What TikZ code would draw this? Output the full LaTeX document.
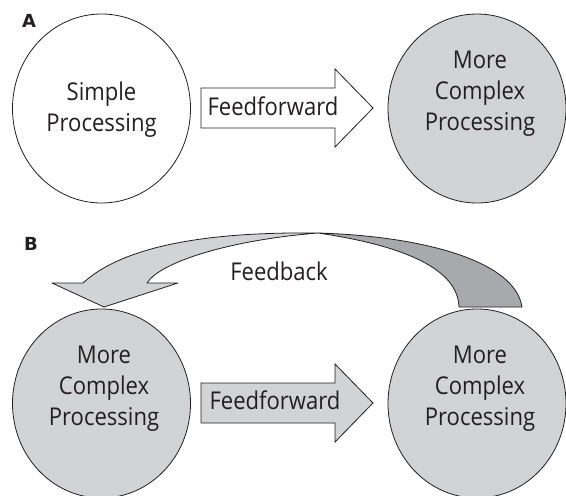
\documentclass[tikz,border=0pt]{standalone}
\usepackage{fontspec}
\setmainfont{Open Sans}[FakeStretch=0.9]
\newfontfamily\panelfont{DejaVu Sans}
\usetikzlibrary{shapes.geometric}
\definecolor{inkc}{HTML}{231F20}
\definecolor{lightg}{HTML}{D1D3D4}
\definecolor{darkg}{HTML}{A7A9AC}
\begin{document}
\begin{tikzpicture}[x=1pt,y=-1pt,
  proc/.style={ellipse, draw=inkc, line width=0.8pt, inner sep=0pt,
    minimum width=178pt, minimum height=189pt},
  txt/.style={align=center, inner sep=0pt, text=inkc,
    font=\fontsize{24.5}{31}\selectfont},
  panel/.style={anchor=base west, inner sep=0pt, text=inkc,
    font=\panelfont\fontsize{18}{18}\selectfont\bfseries},
  blockarrow/.style={draw=inkc, line width=0.8pt, line join=miter},
  band/.style={draw=inkc, line width=0.8pt, line join=round}]
\useasboundingbox (0,0) rectangle (566,496);

% panel A
\node[panel] (labA) at (22,27.5) {A};
\node[proc, fill=white]  (simpleA)  at (101.5,108.5) {};
\node[proc, fill=lightg] (complexA) at (477,108.5) {};
\node[txt] (tSimpleA)  at (101.5,110) {Simple\\Processing};
\node[txt] (tComplexA) at (480,94) {More\\Complex\\Processing};
\draw[blockarrow, fill=white] (201,88) -- (335,88) -- (335,69) -- (373,108)
  -- (335,147) -- (335,128) -- (201,128) -- cycle;
\node[txt, anchor=base] (ffA) at (273,115) {Feedforward};

% panel B
\node[panel] (labB) at (24,250) {B};
\node[proc, fill=lightg] (complexB1) at (101.5,403.5) {};
\node[proc, fill=lightg] (complexB2) at (477,403.5) {};
\node[txt] (tComplexB1) at (104,389) {More\\Complex\\Processing};
\node[txt] (tComplexB2) at (480,389) {More\\Complex\\Processing};
\draw[blockarrow, fill=lightg] (201,383) -- (335,383) -- (335,364) -- (373,403)
  -- (335,442) -- (335,423) -- (201,423) -- cycle;
\node[txt, anchor=base] (ffB) at (275,409) {Feedforward};

% feedback ribbon: twisted band from the right node back to the left one
\coordinate (twist) at (318,233);
\draw[band, fill=lightg] (twist) .. controls (230,232) and (130,240) .. (83,283)
  -- (52,283) -- (104,307) -- (178,283) -- (147,283)
  .. controls (160,262) and (230,240) .. (twist) -- cycle;
\draw[band, fill=darkg] (twist) .. controls (420,236) and (515,260) .. (522,307)
  -- (459,307) .. controls (458,275) and (420,248) .. (twist) -- cycle;
\node[txt, anchor=base] (fb) at (279,280) {Feedback};
\end{tikzpicture}
\end{document}
